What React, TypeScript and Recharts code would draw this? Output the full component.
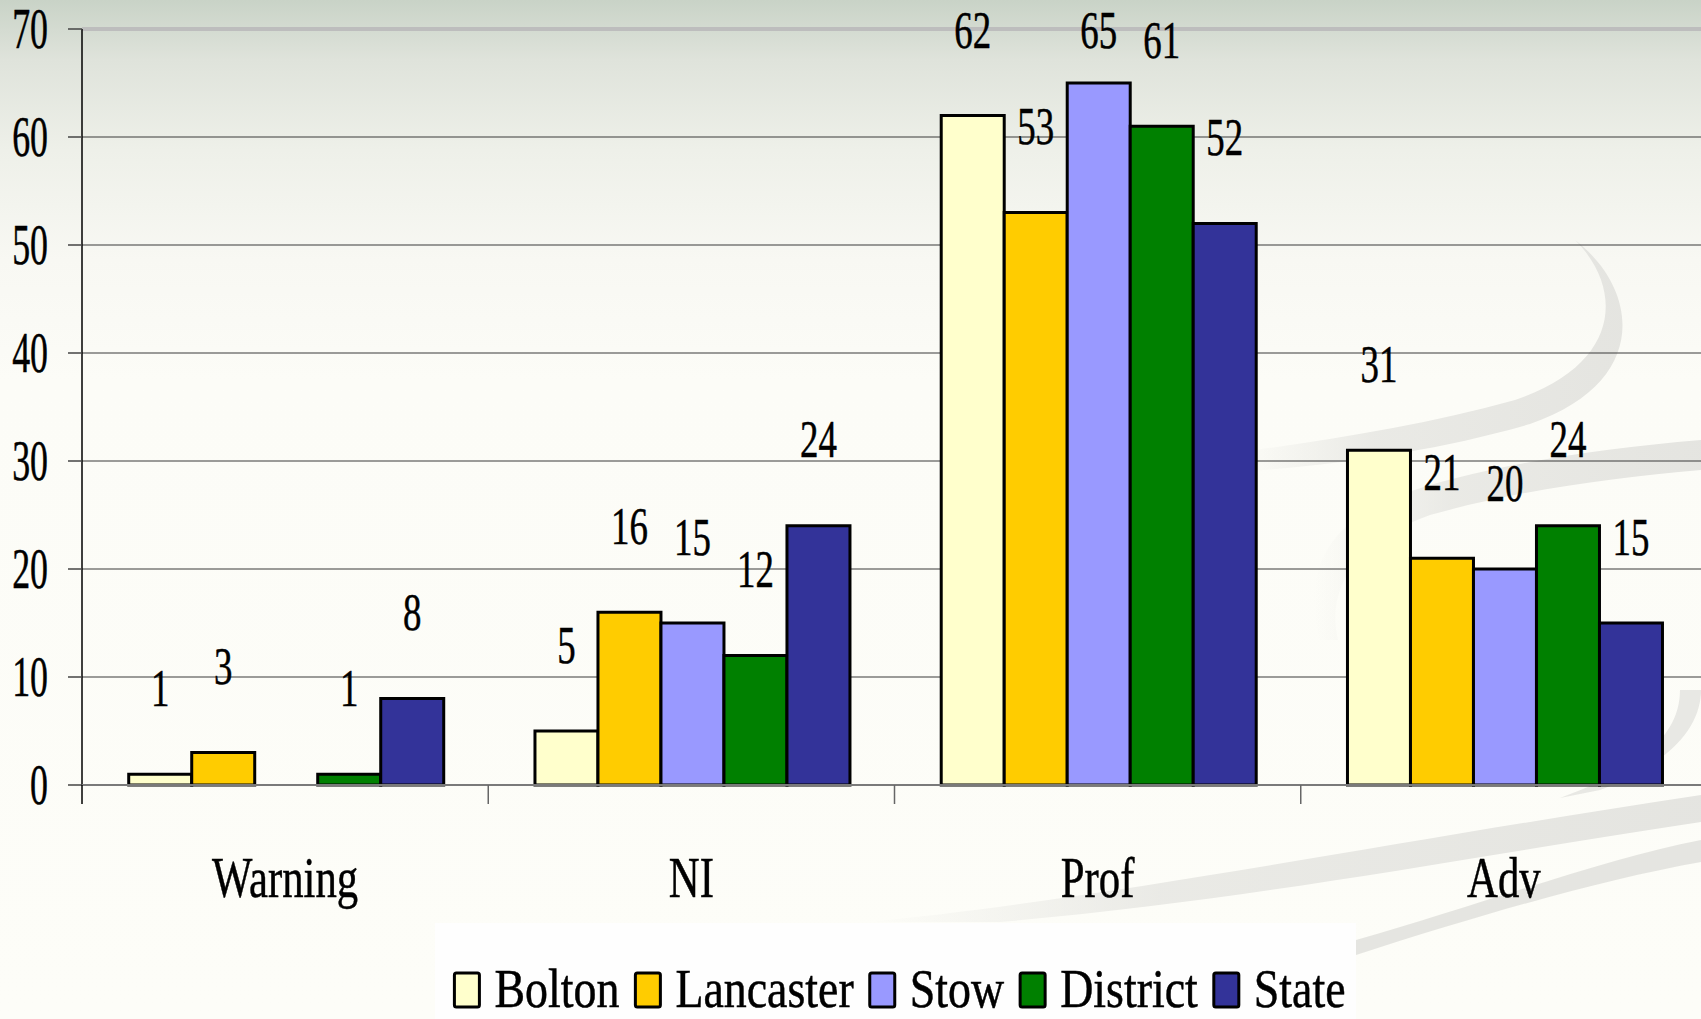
import React from "react";
import { BarChart, Bar, XAxis, YAxis, CartesianGrid, LabelList, ReferenceLine } from "recharts";

const categories = ["Warning", "NI", "Prof", "Adv"];
const seriesNames = ["Bolton", "Lancaster", "Stow", "District", "State"];
const seriesColors = ["#FFFFCC", "#FFCC00", "#9999FF", "#008000", "#333399"];
const bolton = [1, 5, 62, 31];
const lancaster = [3, 16, 53, 21];
const stow = [0, 15, 65, 20];
const district = [1, 12, 61, 24];
const state = [8, 24, 52, 15];
const yTicks = [0, 10, 20, 30, 40, 50, 60, 70];

const seriesValues = [bolton, lancaster, stow, district, state];

const data = categories.map((category, i) => {
  const row: Record<string, string | number> = { category };
  seriesNames.forEach((name, s) => {
    row[name] = seriesValues[s][i];
  });
  return row;
});

const CHART_W = 1707;
const CHART_H = 1019;
const PLOT_TOP = 29;
const PLOT_BOTTOM = 785;
const Y_AXIS_W = 82;
const Y_MAX = 70;
const PX_PER_UNIT = (PLOT_BOTTOM - PLOT_TOP) / Y_MAX;
const BAND = (CHART_W - Y_AXIS_W) / categories.length;
const FONT = "'Liberation Serif', 'Times New Roman', serif";
const TEXT_STROKE = 0.5;

function YTick(props: any) {
  const { x, y, payload } = props;
  return (
    <text
      transform={`translate(${x},${y}) scale(0.64,1)`}
      x={0}
      y={0}
      dy={19}
      textAnchor="end"
      fontSize={56}
      fontFamily={FONT}
      fill="#000"
      stroke="#000"
      strokeWidth={TEXT_STROKE}
    >
      {payload.value}
    </text>
  );
}

function XTick(props: any) {
  const { x, payload } = props;
  const edge = x - BAND / 2;
  return (
    <g>
      <line x1={edge} x2={edge} y1={PLOT_BOTTOM} y2={PLOT_BOTTOM + 19} stroke={payload.index === 0 ? "#000" : "#666"} strokeWidth={1.5} />
      <text
        transform={`translate(${x},${PLOT_BOTTOM + 112}) scale(0.75,1)`}
        x={0}
        y={0}
        textAnchor="middle"
        fontSize={57}
        fontFamily={FONT}
        fill="#000"
        stroke="#000"
        strokeWidth={TEXT_STROKE}
      >
        {payload.value}
      </text>
    </g>
  );
}

function ValueLabel(props: any) {
  const vb = props.viewBox || props;
  const x = vb.x ?? props.x;
  const y = vb.y ?? props.y;
  const width = vb.width ?? props.width;
  const value = props.value;
  if (!value) return null;
  const cy = Math.max(30, y - 8 * PX_PER_UNIT);
  return (
    <text
      transform={`translate(${x + width / 2},${cy}) scale(0.71,1)`}
      x={0}
      y={0}
      dy={18}
      textAnchor="middle"
      fontSize={52}
      fontFamily={FONT}
      fill="#000"
      stroke="#000"
      strokeWidth={TEXT_STROKE}
    >
      {value}
    </text>
  );
}

const LEGEND_FONT = 54;
const LEGEND_SCALE = 0.85;

function measure(text: string) {
  const ctx = document.createElement("canvas").getContext("2d");
  if (!ctx) return text.length * LEGEND_FONT * 0.45;
  ctx.font = `${LEGEND_FONT}px 'Liberation Serif'`;
  return ctx.measureText(text).width;
}

function Legend() {
  const boxW = 25;
  const gapText = 15;
  const gapItem = 16;
  const widths = seriesNames.map((n) => measure(n) * LEGEND_SCALE);
  const total = widths.reduce((a, w) => a + w, 0) + seriesNames.length * (boxW + gapText) + (seriesNames.length - 1) * gapItem;
  let cursor = 465 - total / 2;
  const items = seriesNames.map((name, i) => {
    const bx = cursor;
    const tx = bx + boxW + gapText;
    cursor = tx + widths[i] + gapItem;
    return (
      <g key={name}>
        <rect x={bx} y={50} width={boxW} height={34} fill={seriesColors[i]} stroke="#000" strokeWidth={3} rx={2} />
        <text
          transform={`translate(${tx},84) scale(${LEGEND_SCALE},1)`}
          x={0}
          y={0}
          fontSize={LEGEND_FONT}
          fontFamily={FONT}
          fill="#000"
          stroke="#000"
          strokeWidth={TEXT_STROKE}
        >
          {name}
        </text>
      </g>
    );
  });
  return (
    <div style={{ position: "absolute", left: 435, top: 923, width: 921, height: 96, background: "#fefefe" }}>
      <svg width={921} height={96} style={{ overflow: "visible" }}>{items}</svg>
    </div>
  );
}

function Swooshes() {
  const fill = "#e2e2de";
  return (
    <svg width={1701} height={1019} style={{ position: "absolute", left: 0, top: 0 }}>
      <defs>
        <linearGradient id="swA" x1="0" x2="1" y1="0" y2="0">
          <stop offset="0" stopColor={fill} stopOpacity={0} />
          <stop offset="0.35" stopColor={fill} stopOpacity={0.7} />
          <stop offset="1" stopColor={fill} stopOpacity={0.9} />
        </linearGradient>
      </defs>
      <path d="M1575,240 C1625,290 1620,365 1515,400 C1425,425 1330,440 1240,452 L1240,472 C1345,464 1440,450 1530,424 C1650,383 1640,290 1575,240 Z" fill="url(#swA)" />
      <path d="M1701,440 C1580,450 1470,470 1400,495 C1330,522 1300,570 1320,640 L1338,640 C1325,585 1360,540 1430,515 C1520,490 1610,478 1701,470 Z" fill="url(#swA)" />
      <path d="M1701,690 C1701,720 1680,760 1600,790 L1560,798 C1650,765 1680,730 1680,690 Z" fill={fill} opacity={0.8} />
      <path d="M868,922 C1100,900 1400,840 1701,795 L1701,822 C1450,860 1250,900 1000,922 Z" fill="url(#swA)" />
      <path d="M1356,940 C1480,905 1600,860 1701,840 L1701,862 C1600,880 1480,915 1356,955 Z" fill={fill} opacity={0.9} />
    </svg>
  );
}

export default function App() {
  return (
    <div
      style={{
        position: "fixed",
        left: 0,
        top: 0,
        width: 1701,
        height: 1019,
        overflow: "hidden",
        background: "linear-gradient(to bottom, #c9d3c7 0px, #dfe3db 60px, #eef0e9 150px, #f8f8f3 260px, #fcfcf7 380px, #fdfdf8 1019px)",
      }}
    >
      <Swooshes />
      <div style={{ position: "absolute", left: 0, top: 0 }}>
        <BarChart
          width={CHART_W}
          height={CHART_H}
          data={data}
          margin={{ top: PLOT_TOP, right: 0, left: 0, bottom: 0 }}
          barCategoryGap="11.5%"
          barGap={0}
        >
          <CartesianGrid vertical={false} stroke="#3a3a3a" strokeWidth={1.2} />
          <YAxis
            width={Y_AXIS_W}
            domain={[0, Y_MAX]}
            ticks={yTicks}
            interval={0}
            tickSize={14}
            tickMargin={20}
            axisLine={{ stroke: "#000", strokeWidth: 1.5 }}
            tickLine={{ stroke: "#444", strokeWidth: 1.5 }}
            tick={<YTick />}
          />
          <XAxis
            dataKey="category"
            height={CHART_H - PLOT_BOTTOM}
            tickLine={false}
            tickSize={0}
            tickMargin={0}
            interval={0}
            axisLine={{ stroke: "#7a7a7a", strokeWidth: 2 }}
            tick={<XTick />}
          />
          <ReferenceLine y={Y_MAX} stroke="#bdbdbd" strokeWidth={4} />
          {seriesNames.map((name, i) => (
            <Bar key={name} dataKey={name} fill={seriesColors[i]} stroke="#000" strokeWidth={3} isAnimationActive={false}>
              <LabelList dataKey={name} content={<ValueLabel />} />
            </Bar>
          ))}
        </BarChart>
      </div>
      <Legend />
    </div>
  );
}
